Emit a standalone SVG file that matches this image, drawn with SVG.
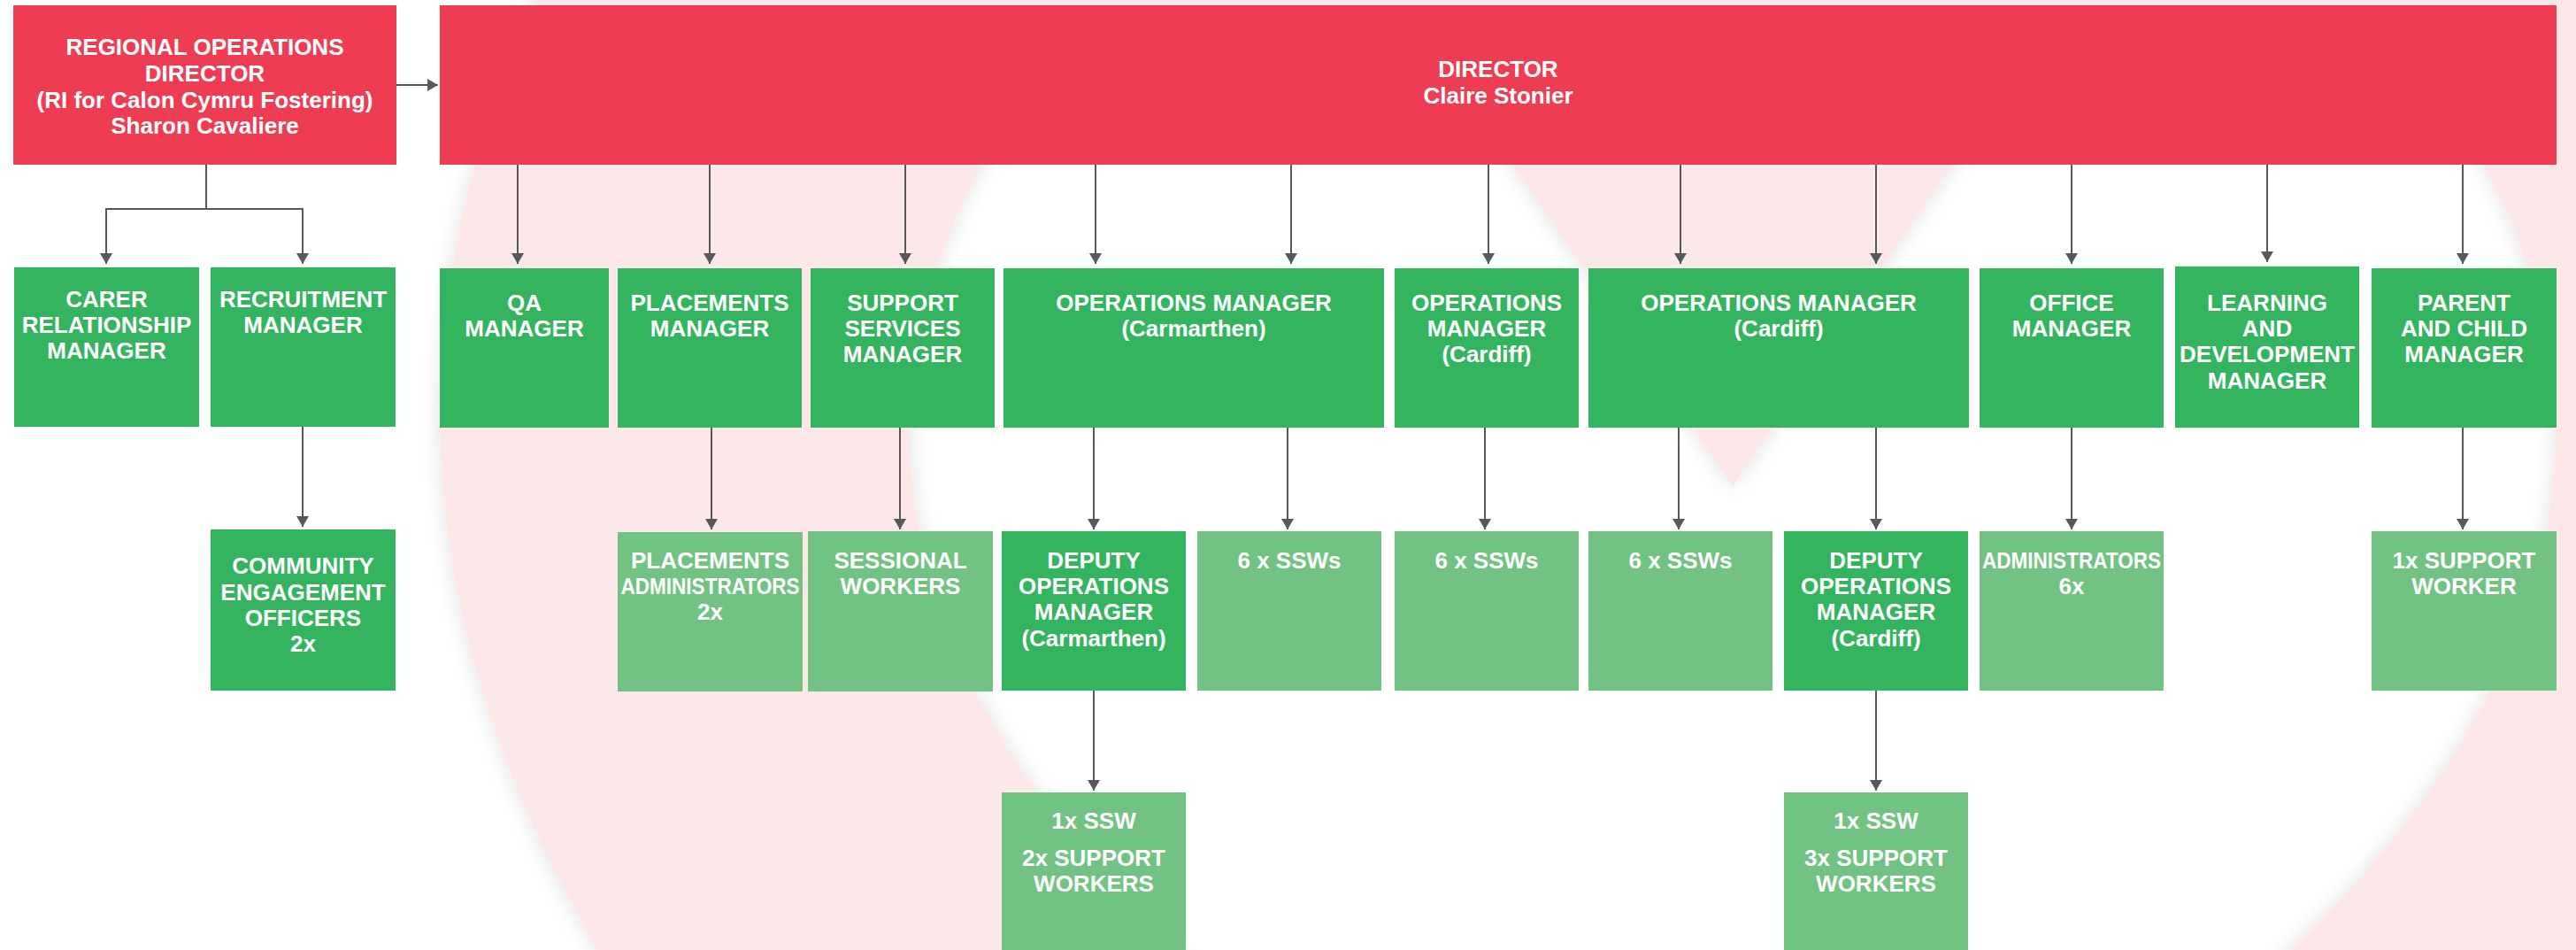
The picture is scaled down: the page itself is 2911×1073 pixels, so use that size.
<svg xmlns="http://www.w3.org/2000/svg" width="2911" height="1073" viewBox="0 0 2911 1073">
<style>
.red{fill:#EE3C52}
.dk{fill:#34B45F}
.lt{fill:#72C383}
.t{font-family:"Liberation Sans",Arial,sans-serif;font-weight:700;font-size:26px;fill:#fff;text-anchor:middle}
.c{fill:none;stroke:#58585A;stroke-width:2}
.a{marker-end:url(#ah)}
</style>
<defs>
<marker id="ah" viewBox="0 0 12 14" refX="12" refY="7" markerWidth="12" markerHeight="14" markerUnits="userSpaceOnUse" orient="auto">
<path d="M0 0 L12 7 L0 14 Z" fill="#58585A"/>
</marker>
<filter id="sh" x="-10%" y="-10%" width="120%" height="120%">
<feGaussianBlur in="SourceAlpha" stdDeviation="12"/>
<feComponentTransfer><feFuncA type="linear" slope="0.12"/></feComponentTransfer>
<feMerge><feMergeNode/><feMergeNode in="SourceGraphic"/></feMerge>
</filter>
</defs>
<rect x="0" y="0" width="2911" height="1073" fill="#fff"/>
<g id="background">
<path fill="#FCE7E9" fill-rule="evenodd" filter="url(#sh)" d="M656 -100 Q238 650 920 1400 L2996 1400 Q3678 650 3260 -100 Z M1958 550 L1650 100 C1580 0 1200 0 1136 140 Q780 720 1604 1300 L2312 1300 Q3136 720 2780 140 C2716 0 2336 0 2266 100 Z"/>
</g>
<g id="connectors">
<path class="c a" d="M448 96 H495"/>
<path class="c a" d="M233 186 V236 H120 V298"/>
<path class="c a" d="M233 236 H342 V298"/>
<path class="c a" d="M342 482 V595"/>
<path class="c a" d="M585 186 V298"/>
<path class="c a" d="M802 186 V298"/>
<path class="c a" d="M1023 186 V298"/>
<path class="c a" d="M1238 186 V298"/>
<path class="c a" d="M1459 186 V298"/>
<path class="c a" d="M1682 186 V298"/>
<path class="c a" d="M1899 186 V298"/>
<path class="c a" d="M2120 186 V298"/>
<path class="c a" d="M2341 186 V298"/>
<path class="c a" d="M2562 186 V296"/>
<path class="c a" d="M2783 186 V298"/>
<path class="c a" d="M804 483 V598"/>
<path class="c a" d="M1017 483 V598"/>
<path class="c a" d="M1236 483 V598"/>
<path class="c a" d="M1455 483 V598"/>
<path class="c a" d="M1678 483 V598"/>
<path class="c a" d="M1897 483 V598"/>
<path class="c a" d="M2120 483 V598"/>
<path class="c a" d="M2341 483 V598"/>
<path class="c a" d="M2783 483 V598"/>
<path class="c a" d="M1236 780 V893"/>
<path class="c a" d="M2120 780 V893"/>
</g>
<g id="regional"><rect class="red" x="15" y="6" width="433" height="180"/>
<text class="t" x="231.5" y="62">REGIONAL OPERATIONS</text><text class="t" x="231.5" y="92">DIRECTOR</text><text class="t" x="231.5" y="122">(RI for Calon Cymru Fostering)</text><text class="t" x="231.5" y="151">Sharon Cavaliere</text></g>
<g id="director"><rect class="red" x="497" y="6" width="2392" height="180"/>
<text class="t" x="1693" y="87">DIRECTOR</text><text class="t" x="1693" y="117">Claire Stonier</text></g>
<g id="carer"><rect class="dk" x="16" y="302" width="209" height="180"/>
<text class="t" x="120.5" y="347">CARER</text><text class="t" x="120.5" y="376">RELATIONSHIP</text><text class="t" x="120.5" y="405">MANAGER</text></g>
<g id="recruitment"><rect class="dk" x="238" y="302" width="209" height="180"/>
<text class="t" x="342.5" y="347">RECRUITMENT</text><text class="t" x="342.5" y="376">MANAGER</text></g>
<g id="qa"><rect class="dk" x="497" y="303" width="191" height="180"/>
<text class="t" x="592.5" y="351">QA</text><text class="t" x="592.5" y="380">MANAGER</text></g>
<g id="placements"><rect class="dk" x="698" y="303" width="208" height="180"/>
<text class="t" x="802" y="351">PLACEMENTS</text><text class="t" x="802" y="380">MANAGER</text></g>
<g id="support-services"><rect class="dk" x="916" y="303" width="208" height="180"/>
<text class="t" x="1020" y="351">SUPPORT</text><text class="t" x="1020" y="380">SERVICES</text><text class="t" x="1020" y="409">MANAGER</text></g>
<g id="ops-carmarthen"><rect class="dk" x="1134" y="303" width="430" height="180"/>
<text class="t" x="1349" y="351">OPERATIONS MANAGER</text><text class="t" x="1349" y="380">(Carmarthen)</text></g>
<g id="ops-cardiff-1"><rect class="dk" x="1576" y="303" width="208" height="180"/>
<text class="t" x="1680" y="351">OPERATIONS</text><text class="t" x="1680" y="380">MANAGER</text><text class="t" x="1680" y="409">(Cardiff)</text></g>
<g id="ops-cardiff-2"><rect class="dk" x="1795" y="303" width="430" height="180"/>
<text class="t" x="2010" y="351">OPERATIONS MANAGER</text><text class="t" x="2010" y="380">(Cardiff)</text></g>
<g id="office"><rect class="dk" x="2237" y="303" width="208" height="180"/>
<text class="t" x="2341" y="351">OFFICE</text><text class="t" x="2341" y="380">MANAGER</text></g>
<g id="learning"><rect class="dk" x="2458" y="301" width="208" height="182"/>
<text class="t" x="2562" y="351">LEARNING</text><text class="t" x="2562" y="380">AND</text><text class="t" x="2562" y="409">DEVELOPMENT</text><text class="t" x="2562" y="439">MANAGER</text></g>
<g id="parent-child"><rect class="dk" x="2680" y="303" width="209" height="180"/>
<text class="t" x="2784.5" y="351">PARENT</text><text class="t" x="2784.5" y="380">AND CHILD</text><text class="t" x="2784.5" y="409">MANAGER</text></g>
<g id="community"><rect class="dk" x="238" y="598" width="209" height="182"/>
<text class="t" x="342.5" y="648">COMMUNITY</text><text class="t" x="342.5" y="678">ENGAGEMENT</text><text class="t" x="342.5" y="707">OFFICERS</text><text class="t" x="342.5" y="736">2x</text></g>
<g id="placements-admin"><rect class="lt" x="698" y="601" width="209" height="180"/>
<text class="t" x="802.5" y="642">PLACEMENTS</text><text class="t" x="802.5" y="671" textLength="202" lengthAdjust="spacingAndGlyphs">ADMINISTRATORS</text><text class="t" x="802.5" y="700">2x</text></g>
<g id="sessional"><rect class="lt" x="913" y="600" width="209" height="181"/>
<text class="t" x="1017.5" y="642">SESSIONAL</text><text class="t" x="1017.5" y="671">WORKERS</text></g>
<g id="deputy-carmarthen"><rect class="dk" x="1132" y="600" width="208" height="180"/>
<text class="t" x="1236" y="642">DEPUTY</text><text class="t" x="1236" y="671">OPERATIONS</text><text class="t" x="1236" y="700">MANAGER</text><text class="t" x="1236" y="730">(Carmarthen)</text></g>
<g id="ssw-1"><rect class="lt" x="1353" y="600" width="208" height="180"/>
<text class="t" x="1457" y="642">6 x SSWs</text></g>
<g id="ssw-2"><rect class="lt" x="1576" y="600" width="208" height="180"/>
<text class="t" x="1680" y="642">6 x SSWs</text></g>
<g id="ssw-3"><rect class="lt" x="1795" y="600" width="208" height="180"/>
<text class="t" x="1899" y="642">6 x SSWs</text></g>
<g id="deputy-cardiff"><rect class="dk" x="2016" y="600" width="208" height="180"/>
<text class="t" x="2120" y="642">DEPUTY</text><text class="t" x="2120" y="671">OPERATIONS</text><text class="t" x="2120" y="700">MANAGER</text><text class="t" x="2120" y="730">(Cardiff)</text></g>
<g id="administrators"><rect class="lt" x="2237" y="600" width="208" height="180"/>
<text class="t" x="2341" y="642" textLength="202" lengthAdjust="spacingAndGlyphs">ADMINISTRATORS</text><text class="t" x="2341" y="671">6x</text></g>
<g id="support-worker"><rect class="lt" x="2680" y="600" width="209" height="180"/>
<text class="t" x="2784.5" y="642">1x SUPPORT</text><text class="t" x="2784.5" y="671">WORKER</text></g>
<g id="team-carmarthen"><rect class="lt" x="1132" y="895" width="208" height="190"/>
<text class="t" x="1236" y="936">1x SSW</text><text class="t" x="1236" y="978">2x SUPPORT</text><text class="t" x="1236" y="1007">WORKERS</text></g>
<g id="team-cardiff"><rect class="lt" x="2016" y="895" width="208" height="190"/>
<text class="t" x="2120" y="936">1x SSW</text><text class="t" x="2120" y="978">3x SUPPORT</text><text class="t" x="2120" y="1007">WORKERS</text></g>
</svg>
